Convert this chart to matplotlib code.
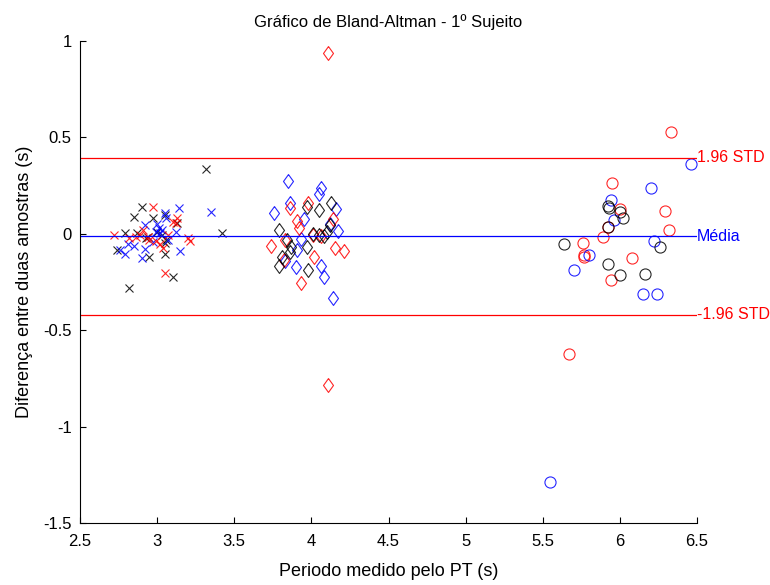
import numpy as np
import matplotlib.pyplot as plt

plt.rcParams['font.family'] = ['Liberation Sans', 'DejaVu Sans']
plt.rcParams['axes.unicode_minus'] = False

# grupo 1 (marcador x), periodo medio e diferenca por cor
x1_preto = [3.32, 2.90, 2.85, 2.97, 3.05, 3.13, 2.79, 2.87, 3.42, 2.74, 2.95, 3.05, 3.10, 2.82, 2.94, 3.03, 2.93, 3.05, 3.00, 3.06]
y1_preto = [0.336, 0.141, 0.086, 0.080, 0.098, 0.054, 0.006, 0.003, 0.006, -0.084, -0.122, -0.106, -0.223, -0.283, -0.015, -0.006, -0.023, -0.050, 0.010, -0.030]
x1_azul = [3.14, 3.35, 3.05, 2.92, 3.00, 3.12, 3.02, 2.81, 2.85, 2.79, 2.76, 2.90, 2.92, 3.15, 2.97, 3.06, 3.03, 2.99, 3.07, 3.01]
y1_azul = [0.132, 0.115, 0.106, 0.046, 0.049, 0.008, 0.003, -0.054, -0.062, -0.106, -0.084, -0.124, -0.079, -0.089, -0.044, 0.084, 0.020, 0.010, -0.030, 0.030]
x1_verm = [2.97, 3.13, 3.12, 2.72, 2.86, 2.94, 2.99, 3.20, 3.21, 3.04, 3.05, 2.89, 2.91, 3.07, 3.02, 2.82, 3.10, 2.95]
y1_verm = [0.141, 0.084, 0.054, -0.006, -0.015, -0.015, -0.037, -0.020, -0.037, -0.075, -0.205, -0.006, 0.020, -0.006, -0.053, -0.020, 0.060, -0.030]

# grupo 2 (losango)
x2_azul = [3.85, 4.06, 4.05, 3.76, 3.86, 3.95, 4.16, 4.17, 3.93, 3.91, 3.90, 4.06, 4.08, 4.14, 3.83, 4.12]
y2_azul = [0.275, 0.236, 0.206, 0.106, 0.158, 0.075, 0.127, 0.016, -0.029, -0.084, -0.174, -0.167, -0.223, -0.335, -0.140, 0.050]
x2_verm = [3.86, 3.91, 3.92, 3.74, 3.83, 4.02, 3.93, 4.15, 4.21, 4.14, 4.06, 3.82, 4.11, 4.11, 3.98, 4.01]
y2_verm = [0.132, 0.066, 0.029, -0.063, -0.032, -0.122, -0.257, -0.075, -0.088, 0.075, -0.011, -0.136, 0.938, -0.784, 0.158, -0.005]
x2_preto = [3.97, 4.05, 4.13, 3.79, 3.84, 3.87, 3.97, 3.81, 3.79, 3.98, 4.05, 4.10, 4.12, 4.08, 4.01, 3.86]
y2_preto = [0.141, 0.123, 0.158, 0.020, -0.032, -0.070, -0.067, -0.119, -0.167, -0.188, -0.006, 0.011, 0.046, -0.011, 0.000, -0.095]

# grupo 3 (circulo)
x3_verm = [6.33, 5.95, 6.29, 6.32, 5.89, 5.76, 5.77, 5.77, 6.08, 5.94, 6.00, 5.92, 5.67]
y3_verm = [0.526, 0.262, 0.120, 0.020, -0.015, -0.046, -0.110, -0.120, -0.127, -0.240, 0.127, 0.035, -0.625]
x3_azul = [6.46, 6.20, 5.94, 5.96, 6.22, 5.80, 5.70, 6.15, 6.24, 5.55]
y3_azul = [0.360, 0.236, 0.175, 0.072, -0.036, -0.110, -0.188, -0.312, -0.312, -1.290]
x3_preto = [5.64, 5.92, 5.93, 6.00, 6.02, 5.92, 6.26, 5.92, 6.00, 6.16]
y3_preto = [-0.053, 0.144, 0.132, 0.115, 0.084, 0.037, -0.070, -0.157, -0.215, -0.210]

media = -0.014
desvio = 0.2077

x_ticks = [2.5, 3, 3.5, 4, 4.5, 5, 5.5, 6, 6.5]
x_labels = ['2.5', '3', '3.5', '4', '4.5', '5', '5.5', '6', '6.5']
y_ticks = [-1.5, -1, -0.5, 0, 0.5, 1]
y_labels = ['-1.5', '-1', '-0.5', '0', '0.5', '1']

fig = plt.figure(figsize=(7.7, 5.85), dpi=100)
ax = fig.add_axes([0.1039, 0.106, 0.8013, 0.824])

losango = [(0, 1), (0.72, 0), (0, -1), (-0.72, 0), (0, 1)]

grupos = [
    (x1_preto, y1_preto, 'black', 'x', 6),
    (x1_azul, y1_azul, 'blue', 'x', 6),
    (x1_verm, y1_verm, 'red', 'x', 6),
    (x2_azul, y2_azul, 'blue', losango, 10),
    (x2_verm, y2_verm, 'red', losango, 10),
    (x2_preto, y2_preto, 'black', losango, 10),
    (x3_verm, y3_verm, 'red', 'o', 8),
    (x3_azul, y3_azul, 'blue', 'o', 8),
    (x3_preto, y3_preto, 'black', 'o', 8),
]
for xs, ys, cor, marc, tam in grupos:
    ax.plot(xs, ys, linestyle='none', marker=marc, markersize=tam,
            markerfacecolor='none', markeredgecolor=cor, markeredgewidth=0.8,
            alpha=0.85)

lim_sup = media + 1.96 * desvio
lim_inf = media - 1.96 * desvio
ax.axhline(lim_sup, color='red', lw=0.9)
ax.axhline(media, color='blue', lw=0.9)
ax.axhline(lim_inf, color='red', lw=0.9)
ax.text(6.5, lim_sup, '1.96 STD', color='red', fontsize=11.5, va='center', ha='left')
ax.text(6.5, media, 'Média', color='blue', fontsize=11.5, va='center', ha='left')
ax.text(6.5, lim_inf, '-1.96 STD', color='red', fontsize=11.5, va='center', ha='left')

ax.set_xlim(2.5, 6.5)
ax.set_ylim(-1.5, 1)
ax.set_xticks(x_ticks)
ax.set_xticklabels(x_labels)
ax.set_yticks(y_ticks)
ax.set_yticklabels(y_labels)
ax.tick_params(direction='in', length=4, labelsize=12, top=False, right=False)
ax.tick_params(axis='x', pad=8)
ax.tick_params(axis='y', pad=6)
ax.spines['top'].set_visible(False)
ax.spines['right'].set_visible(False)

ax.set_title('Gráfico de Bland-Altman - 1º Sujeito', fontsize=12, pad=10)
ax.set_xlabel('Periodo medido pelo PT (s)', fontsize=13, labelpad=10)
ax.set_ylabel('Diferença entre duas amostras (s)', fontsize=13, labelpad=7)

fig.savefig('out.png', dpi=100)
